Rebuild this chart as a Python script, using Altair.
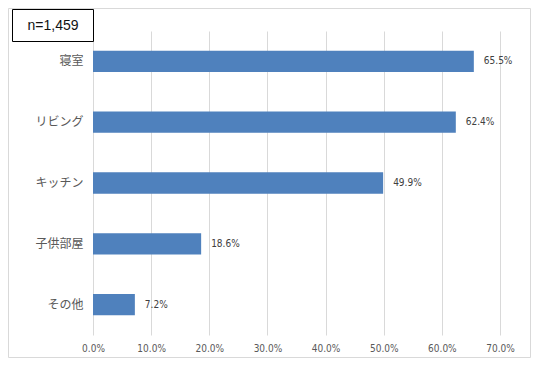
import altair as alt
import pandas as pd

categories = ["寝室", "リビング", "キッチン", "子供部屋", "その他"]
values = [0.655, 0.624, 0.499, 0.186, 0.072]
x_ticks = [0, 0.1, 0.2, 0.3, 0.4, 0.5, 0.6, 0.7]
n_label = "n=1,459"

df = pd.DataFrame({"cat": categories, "val": values})

NUM_FONT = "DejaVu Sans Condensed, Liberation Sans Narrow, Noto Sans CJK JP, sans-serif"
JP_FONT = "Noto Sans CJK JP, sans-serif"

W, H = 407, 304
PL, PT, PR, PB = 85, 23, 31, 23

base = alt.Chart(df)

frame = base.mark_rect(fill="transparent", stroke="#d9d9d9", strokeWidth=1).encode(
    x=alt.value(-PL + 0.5), x2=alt.value(W + PR - 0.5),
    y=alt.value(-PT + 0.5), y2=alt.value(H + PB - 0.5)
).transform_filter(alt.datum.cat == categories[0])

bars = base.mark_bar(color="#4f81bd").encode(
    y=alt.Y("cat:N", sort=categories, title=None,
            scale=alt.Scale(paddingInner=0.65, paddingOuter=0.325),
            axis=alt.Axis(domain=False, ticks=False, labelPadding=10,
                          labelFont=JP_FONT, labelFontSize=12, labelColor="#595959")),
    x=alt.X("val:Q", title=None,
            scale=alt.Scale(domain=[0, 0.7], nice=False, zero=True),
            axis=alt.Axis(values=x_ticks, format=".1%", domain=False, ticks=False,
                          grid=True, gridColor="#d9d9d9", gridWidth=1,
                          labelPadding=8, labelFont=NUM_FONT, labelFontSize=10,
                          labelColor="#595959", labelFlush=False)),
)

labels = base.mark_text(align="left", dx=10, font=NUM_FONT, fontSize=10, color="#404040").encode(
    y=alt.Y("cat:N", sort=categories),
    x=alt.X("val:Q"),
    text=alt.Text("val:Q", format=".1%"),
)

nbox = base.mark_rect(fill="white", stroke="black", strokeWidth=1).encode(
    x=alt.value(-80.5), x2=alt.value(0.5), y=alt.value(-21.5), y2=alt.value(10.5)
).transform_filter(alt.datum.cat == categories[0])

ntext = base.mark_text(align="center", baseline="middle", font="Liberation Sans, Arial, sans-serif",
                       fontSize=14, fontWeight="normal", color="#111111").encode(
    x=alt.value(-40), y=alt.value(-5.5), text=alt.value(n_label)
).transform_filter(alt.datum.cat == categories[0])

chart = alt.layer(frame, bars, labels, nbox, ntext).properties(
    width=W, height=H,
    autosize=alt.AutoSizeParams(type="none"),
    padding={"left": PL, "top": PT, "right": PR, "bottom": PB},
    background="white",
).configure_view(stroke=None)

chart.save("out.html", embed_options={"renderer": "svg", "actions": False})
